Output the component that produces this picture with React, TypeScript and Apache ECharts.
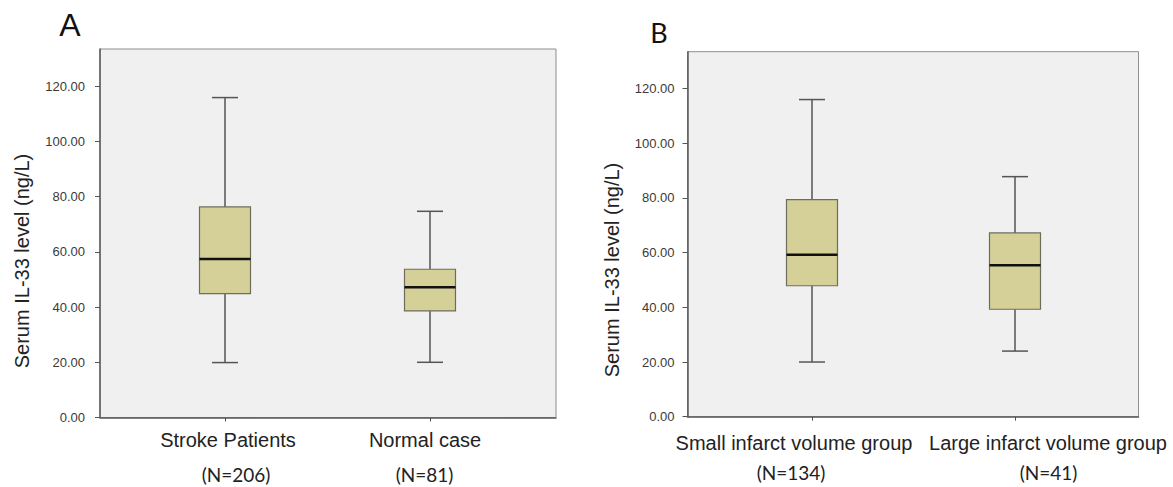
import React, { useEffect, useRef } from "react";
import * as echarts from "echarts";

// ---- data ----
const panelACategories = ["Stroke Patients", "Normal case"];
const panelACounts = ["(N=206)", "(N=81)"];
// [min, Q1, median, Q3, max]
const strokeBox = [19.9, 44.9, 57.4, 76.3, 115.9];
const normalBox = [20.0, 38.6, 47.2, 53.7, 74.7];

const panelBCategories = ["Small infarct volume group", "Large infarct volume group"];
const panelBCounts = ["(N=134)", "(N=41)"];
const smallBox = [20.0, 47.9, 59.2, 79.4, 116.0];
const largeBox = [24.0, 39.3, 55.4, 67.2, 87.8];

const yTicks = [0, 20, 40, 60, 80, 100, 120];
const yMax = 133.5;
const yAxisTitle = "Serum IL-33 level (ng/L)";
const panelTitles = ["A", "B"];

const ARIAL = "'Liberation Sans', Arial, sans-serif";
const CAL = "Lato, 'Noto Sans', sans-serif";

function renderBox(params: any, api: any) {
  const c = api.value(0);
  const lo = api.coord([c, api.value(1)]);
  const q1 = api.coord([c, api.value(2)]);
  const md = api.coord([c, api.value(3)]);
  const q3 = api.coord([c, api.value(4)]);
  const hi = api.coord([c, api.value(5)]);
  const x = lo[0];
  const bw = 51;
  const cw = 26;
  const wStyle = { stroke: "#555555", lineWidth: 1.5 };
  return {
    type: "group",
    children: [
      { type: "line", shape: { x1: x, y1: hi[1], x2: x, y2: q3[1] }, style: wStyle },
      { type: "line", shape: { x1: x, y1: q1[1], x2: x, y2: lo[1] }, style: wStyle },
      { type: "line", shape: { x1: x - cw / 2, y1: hi[1], x2: x + cw / 2, y2: hi[1] }, style: wStyle },
      { type: "line", shape: { x1: x - cw / 2, y1: lo[1], x2: x + cw / 2, y2: lo[1] }, style: wStyle },
      {
        type: "rect",
        shape: { x: x - bw / 2, y: q3[1], width: bw, height: q1[1] - q3[1] },
        style: { fill: "#d4d098", stroke: "#6e6d5c", lineWidth: 1.2 },
      },
      {
        type: "line",
        shape: { x1: x - bw / 2, y1: md[1], x2: x + bw / 2, y2: md[1] },
        style: { stroke: "#111111", lineWidth: 2.5 },
      },
    ],
  };
}

function labelFormatter(cats: string[], counts: string[]) {
  return (value: string, index: number) => `{n${index}|${value}}\n{m${index}|${counts[index]}}`;
}

export default function App() {
  const ref = useRef<HTMLDivElement>(null);
  useEffect(() => {
    if (!ref.current) return;
    const chart = echarts.init(ref.current, null, { renderer: "svg" });

    const frameGridA = { left: 100, top: 49, width: 456, height: 368.5 };
    const innerGridA = { left: 122.5, top: 49, width: 410, height: 368.5 };
    const frameGridB = { left: 687.5, top: 51.7, width: 451, height: 365 };
    const innerGridB = { left: 710.5, top: 51.7, width: 406, height: 365 };

    const frameStyle = {
      show: true,
      backgroundColor: "#f0f0f0",
      borderColor: "#8e8e8e",
      borderWidth: 1,
    };

    const frameX = (gridIndex: number) => ({
      type: "value",
      gridIndex,
      min: 0,
      max: 1,
      axisLine: { show: true, lineStyle: { color: "#5a5a5a", width: 1.5 } },
      axisTick: { show: false },
      axisLabel: { show: false },
      splitLine: { show: false },
    });

    const frameY = (gridIndex: number, margin: number) => ({
      type: "value",
      gridIndex,
      min: 0,
      max: yMax,
      axisLine: { show: true, lineStyle: { color: "#5a5a5a", width: 1.5 } },
      axisTick: {
        show: true,
        length: 5,
        customValues: yTicks,
        lineStyle: { color: "#555555" },
      },
      axisLabel: {
        show: true,
        customValues: yTicks,
        margin,
        fontFamily: ARIAL,
        fontSize: 13,
        color: "#3a3a3a",
        formatter: (v: number) => v.toFixed(2),
      },
      splitLine: { show: false },
    });

    const innerY = (gridIndex: number) => ({
      type: "value",
      gridIndex,
      min: 0,
      max: yMax,
      show: false,
    });

    const innerX = (gridIndex: number, cats: string[], counts: string[], rich: any) => ({
      type: "category",
      gridIndex,
      data: cats,
      boundaryGap: true,
      axisLine: { show: false },
      axisTick: {
        show: true,
        alignWithLabel: true,
        length: 4,
        lineStyle: { color: "#555555" },
      },
      axisLabel: {
        show: true,
        interval: 0,
        margin: 10,
        formatter: labelFormatter(cats, counts),
        rich,
      },
      splitLine: { show: false },
    });

    const nameA = { fontFamily: ARIAL, fontSize: 20, color: "#222222", lineHeight: 24 };
    const cntA = { fontFamily: CAL, fontSize: 19, color: "#222222", lineHeight: 46 };
    const richA = {
      n0: { ...nameA, padding: [0, 0, 0, 6] },
      m0: { ...cntA, padding: [0, 0, 0, 22] },
      n1: { ...nameA, padding: [0, 10, 0, 0] },
      m1: { ...cntA, padding: [0, 11, 0, 0] },
    };
    const nameB = { fontFamily: ARIAL, fontSize: 20, color: "#222222", lineHeight: 32 };
    const cntB = { fontFamily: CAL, fontSize: 19, color: "#222222", lineHeight: 28 };
    const richB = {
      n0: { ...nameB, padding: [0, 36, 0, 0] },
      m0: { ...cntB, padding: [0, 42, 0, 0] },
      n1: { ...nameB, padding: [0, 0, 0, 66] },
      m1: { ...cntB, padding: [0, 0, 0, 67] },
    };

    const boxDataA = [strokeBox, normalBox].map((b, i) => [i, ...b]);
    const boxDataB = [smallBox, largeBox].map((b, i) => [i, ...b]);

    chart.setOption({
      animation: false,
      grid: [
        { ...frameGridA, ...frameStyle },
        { ...innerGridA, show: false },
        { ...frameGridB, ...frameStyle },
        { ...innerGridB, show: false },
      ],
      xAxis: [
        frameX(0),
        innerX(1, panelACategories, panelACounts, richA),
        frameX(2),
        innerX(3, panelBCategories, panelBCounts, richB),
      ],
      yAxis: [frameY(0, 15), innerY(1), frameY(2, 13), innerY(3)],
      series: [
        {
          type: "custom",
          xAxisIndex: 1,
          yAxisIndex: 1,
          renderItem: renderBox,
          encode: { x: 0, y: [1, 2, 3, 4, 5] },
          data: boxDataA,
        },
        {
          type: "custom",
          xAxisIndex: 3,
          yAxisIndex: 3,
          renderItem: renderBox,
          encode: { x: 0, y: [1, 2, 3, 4, 5] },
          data: boxDataB,
        },
      ],
      graphic: [
        {
          type: "text",
          x: 70,
          y: 24.5,
          style: {
            text: panelTitles[0],
            font: `32px ${ARIAL}`,
            fill: "#111111",
            textAlign: "center",
            textVerticalAlign: "middle",
          },
        },
        {
          type: "text",
          x: 659,
          y: 32.5,
          style: {
            text: panelTitles[1],
            font: `27px ${CAL}`,
            fill: "#111111",
            textAlign: "center",
            textVerticalAlign: "middle",
          },
        },
        {
          type: "text",
          x: 22,
          y: 261,
          rotation: Math.PI / 2,
          style: {
            text: yAxisTitle,
            font: `20px ${ARIAL}`,
            fill: "#222222",
            textAlign: "center",
            textVerticalAlign: "middle",
          },
        },
        {
          type: "text",
          x: 612,
          y: 270,
          rotation: Math.PI / 2,
          style: {
            text: yAxisTitle,
            font: `20px ${ARIAL}`,
            fill: "#222222",
            textAlign: "center",
            textVerticalAlign: "middle",
          },
        },
      ],
    });
    return () => chart.dispose();
  }, []);

  return (
    <div
      ref={ref}
      style={{ position: "fixed", left: 0, top: 0, width: 1173, height: 487, background: "#ffffff" }}
    />
  );
}
